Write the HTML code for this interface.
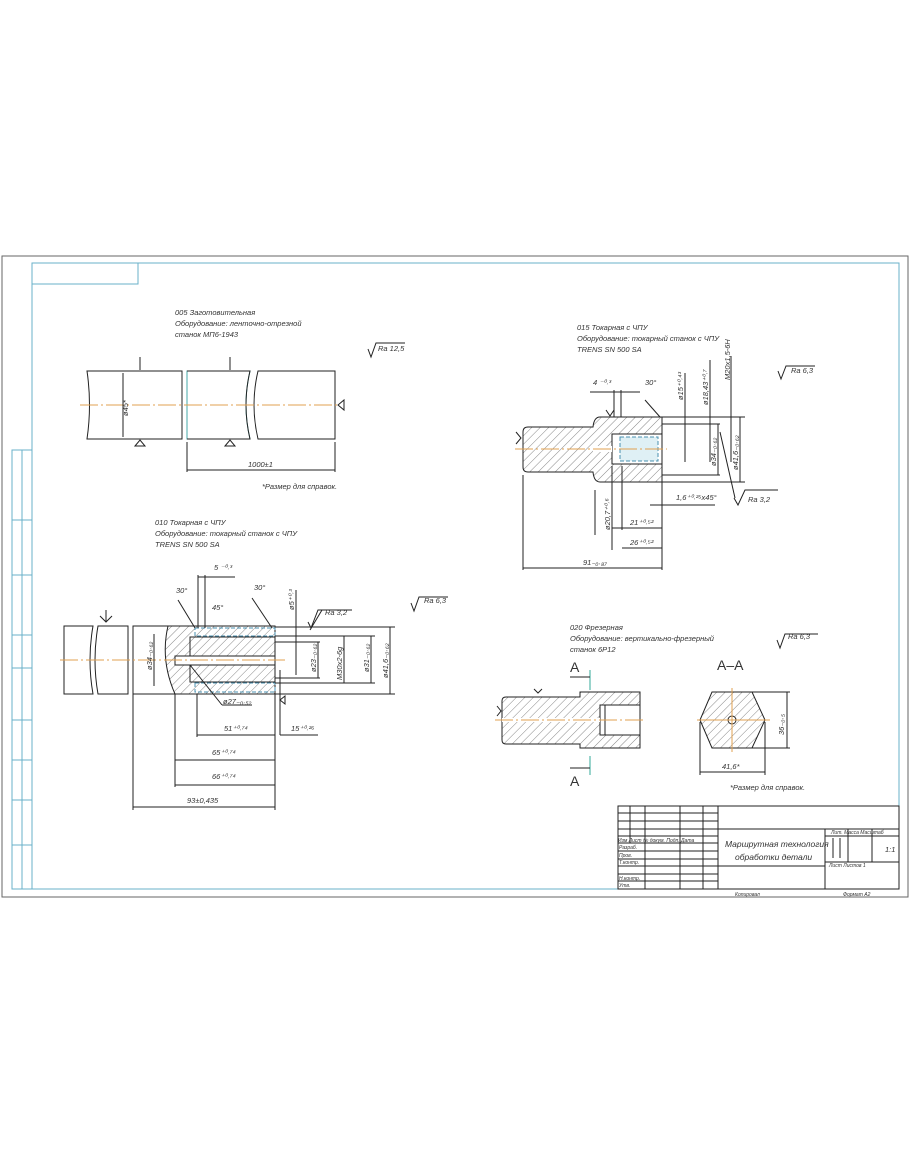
<!DOCTYPE html>
<html><head><meta charset="utf-8"><style>
html,body{margin:0;padding:0;background:#fff}
svg{display:block}
text{font-family:"Liberation Sans",sans-serif;font-style:italic;fill:#333}
</style></head><body>
<svg width="910" height="1155" viewBox="0 0 910 1155" xmlns="http://www.w3.org/2000/svg">
<defs>
<pattern id="h" width="6" height="6" patternUnits="userSpaceOnUse" patternTransform="rotate(45)">
<rect width="6" height="6" fill="#fff"/><line x1="0" y1="0" x2="0" y2="6" stroke="#555" stroke-width="0.7"/>
</pattern>
</defs>
<g fill="none" stroke="#222" stroke-width="1">
<!-- frames -->
<rect x="2" y="256" width="906" height="641" stroke="#666"/>
<rect x="32" y="263" width="867" height="626" stroke="#6ab0c8"/>
<rect x="32" y="263" width="106" height="21" stroke="#6ab0c8"/>
<rect x="12" y="450" width="20" height="439" stroke="#6ab0c8"/>
<line x1="22" y1="450" x2="22" y2="889" stroke="#6ab0c8"/>
<g stroke="#6ab0c8"><line x1="12" y1="520" x2="32" y2="520"/><line x1="12" y1="575" x2="32" y2="575"/><line x1="12" y1="635" x2="32" y2="635"/><line x1="12" y1="668" x2="32" y2="668"/><line x1="12" y1="720" x2="32" y2="720"/><line x1="12" y1="760" x2="32" y2="760"/><line x1="12" y1="800" x2="32" y2="800"/><line x1="12" y1="845" x2="32" y2="845"/></g>

<!-- 005 -->
<path d="M87 371 H182 V439 H87 Q92 405 87 371Z"/>
<path d="M187 371 H250 Q242 405 250 439 H187Z" stroke="#4aa"/>
<path d="M187 371 H250 Q242 405 250 439 H187"/>
<path d="M258 371 H335 V439 H258 Q250 405 258 371Z"/>
<line x1="80" y1="405" x2="340" y2="405" stroke="#e0a050" stroke-dasharray="18 3 2 3"/>
<line x1="123" y1="373" x2="123" y2="437"/>
<line x1="140" y1="357" x2="140" y2="370"/><line x1="230" y1="357" x2="230" y2="370"/>
<path d="M135 446 L140 440 L145 446Z M225 446 L230 440 L235 446Z M338 405 L344 400 L344 410Z"/>
<line x1="187" y1="442" x2="187" y2="472"/><line x1="335" y1="442" x2="335" y2="472"/>
<line x1="187" y1="470" x2="335" y2="470"/>
<path d="M368 349 L371 357 L376 343 H405"/>

<!-- 015 -->
<path d="M528 427 H593 Q594 417 600 417 H662 V482 H600 Q594 482 593 472 H528 Q523 472 523 467 V432 Q523 427 528 427Z" fill="url(#h)"/>
<rect x="612" y="434" width="50" height="30" fill="#fff"/>
<rect x="620" y="437" width="38" height="24" fill="#dff0f5" stroke="#4a90b0" stroke-dasharray="4 2"/>
<rect x="593" y="446" width="19" height="6" fill="#fff" stroke="none"/>
<line x1="515" y1="449" x2="667" y2="449" stroke="#e0a050" stroke-dasharray="18 3 2 3"/>
<line x1="662" y1="417" x2="745" y2="417"/><line x1="662" y1="482" x2="745" y2="482"/>
<line x1="662" y1="424" x2="720" y2="424"/><line x1="662" y1="475" x2="720" y2="475"/>
<line x1="685" y1="373" x2="685" y2="462"/><line x1="710" y1="360" x2="710" y2="462"/><line x1="731" y1="356" x2="731" y2="462"/>
<line x1="718" y1="424" x2="718" y2="475"/><line x1="740" y1="417" x2="740" y2="482"/>
<line x1="523" y1="475" x2="523" y2="570"/><line x1="662" y1="482" x2="662" y2="570"/>
<line x1="523" y1="568" x2="662" y2="568"/>
<line x1="612" y1="466" x2="612" y2="550"/><line x1="622" y1="466" x2="622" y2="530"/>
<line x1="612" y1="528" x2="662" y2="528"/><line x1="622" y1="548" x2="662" y2="548"/>
<line x1="614" y1="390" x2="614" y2="417"/><line x1="621" y1="390" x2="621" y2="417"/>
<line x1="590" y1="392" x2="640" y2="392"/>
<line x1="645" y1="400" x2="660" y2="417"/>
<line x1="650" y1="505" x2="715" y2="505"/>
<line x1="720" y1="432" x2="735" y2="498" /><path d="M734 498 L738 505 L745 490 H778"/>
<line x1="595" y1="490" x2="595" y2="535"/>
<path d="M516 432 L521 438 L516 444" /><path d="M606 410 L610 416 L614 410"/>
<path d="M778 371 L781 379 L786 366 H815"/>

<!-- 010 -->
<path d="M64 626 H93 Q87 660 93 694 H64Z"/>
<path d="M98 626 H128 V694 H98 Q92 660 98 626Z"/>
<rect x="133" y="626" width="42" height="68"/>
<path d="M168 626 H275 V694 H175 Q160 660 168 626Z" fill="url(#h)"/>
<rect x="190" y="637" width="85" height="45" fill="url(#h)"/>
<rect x="175" y="656" width="100" height="9" fill="#fff"/>
<rect x="195" y="628" width="80" height="8" fill="none" stroke="#4a90b0" stroke-dasharray="4 2"/>
<rect x="195" y="683" width="80" height="9" fill="none" stroke="#4a90b0" stroke-dasharray="4 2"/>
<line x1="60" y1="660" x2="285" y2="660" stroke="#e0a050" stroke-dasharray="18 3 2 3"/>
<line x1="275" y1="627" x2="395" y2="627"/><line x1="275" y1="694" x2="395" y2="694"/>
<line x1="275" y1="636" x2="375" y2="636"/><line x1="275" y1="683" x2="375" y2="683"/>
<line x1="275" y1="642" x2="320" y2="642"/><line x1="275" y1="678" x2="320" y2="678"/>
<line x1="296" y1="590" x2="296" y2="675"/><line x1="318" y1="642" x2="318" y2="678"/>
<line x1="344" y1="636" x2="344" y2="683"/><line x1="371" y1="636" x2="371" y2="683"/><line x1="390" y1="627" x2="390" y2="694"/>
<line x1="154" y1="634" x2="154" y2="686"/>
<line x1="133" y1="694" x2="133" y2="810"/><line x1="175" y1="694" x2="175" y2="787"/><line x1="197" y1="694" x2="197" y2="737"/><line x1="275" y1="694" x2="275" y2="810"/><line x1="280" y1="670" x2="280" y2="735"/>
<line x1="197" y1="735" x2="275" y2="735"/><line x1="280" y1="735" x2="318" y2="735"/>
<line x1="175" y1="760" x2="275" y2="760"/><line x1="175" y1="785" x2="275" y2="785"/><line x1="133" y1="807" x2="275" y2="807"/>
<line x1="198" y1="575" x2="198" y2="628"/><line x1="205" y1="575" x2="205" y2="628"/><line x1="198" y1="577" x2="235" y2="577"/>
<line x1="178" y1="600" x2="195" y2="628"/><line x1="252" y1="598" x2="272" y2="628"/>
<line x1="190" y1="665" x2="222" y2="705"/><line x1="222" y1="705" x2="252" y2="705"/>
<line x1="310" y1="630" x2="322" y2="610"/><path d="M308 622 L311 628 L318 610 H352"/>
<path d="M100 616 L106 622 L112 616 M106 610 V622"/>
<path d="M280 700 L285 696 L285 704Z"/>
<path d="M411 603 L414 611 L419 597 H448"/>

<!-- 020 -->
<path d="M506 697 H580 V692 H640 V748 H580 V744 H506 Q502 744 502 740 V701 Q502 697 506 697Z" fill="url(#h)"/>
<rect x="600" y="705" width="40" height="30" fill="#fff"/><rect x="600" y="705" width="5" height="30"/>
<rect x="502" y="718" width="98" height="4" fill="#fff" stroke="none"/>
<line x1="495" y1="720" x2="645" y2="720" stroke="#e0a050" stroke-dasharray="18 3 2 3"/>
<line x1="590" y1="670" x2="590" y2="690" stroke="#3a9"/><line x1="590" y1="756" x2="590" y2="775" stroke="#3a9"/>
<line x1="570" y1="677" x2="590" y2="677"/><line x1="570" y1="768" x2="590" y2="768"/>
<path d="M534 689 L538 693 L542 689 M497 706 L501 711 L497 716"/>
<path d="M712 692 H752 L765 720 L752 748 H712 L700 720Z" fill="url(#h)"/>
<circle cx="732" cy="720" r="4" fill="#fff"/>
<line x1="697" y1="720" x2="770" y2="720" stroke="#e0a050"/><line x1="732" y1="688" x2="732" y2="752" stroke="#e0a050"/>
<line x1="752" y1="692" x2="790" y2="692"/><line x1="752" y1="748" x2="790" y2="748"/><line x1="787" y1="692" x2="787" y2="748"/>
<line x1="700" y1="722" x2="700" y2="775"/><line x1="765" y1="722" x2="765" y2="775"/><line x1="700" y1="772" x2="765" y2="772"/>
<path d="M777 640 L780 648 L785 634 H818"/>

<!-- title block -->
<rect x="618" y="806" width="281" height="83"/>
<line x1="718" y1="806" x2="718" y2="889"/><line x1="825" y1="829" x2="825" y2="889"/>
<line x1="718" y1="829" x2="899" y2="829"/><line x1="825" y1="836" x2="899" y2="836"/><line x1="825" y1="862" x2="899" y2="862"/><line x1="718" y1="866" x2="825" y2="866"/>
<line x1="848" y1="829" x2="848" y2="862"/><line x1="872" y1="829" x2="872" y2="862"/>
<line x1="833" y1="838" x2="833" y2="858"/><line x1="840" y1="838" x2="840" y2="858"/>
<line x1="630" y1="806" x2="630" y2="843"/><line x1="645" y1="806" x2="645" y2="889"/><line x1="680" y1="806" x2="680" y2="889"/><line x1="703" y1="806" x2="703" y2="889"/>
<line x1="618" y1="813" x2="718" y2="813"/><line x1="618" y1="821" x2="718" y2="821"/><line x1="618" y1="829" x2="718" y2="829"/><line x1="618" y1="836" x2="718" y2="836"/><line x1="618" y1="843" x2="718" y2="843"/><line x1="618" y1="851" x2="718" y2="851"/><line x1="618" y1="859" x2="718" y2="859"/><line x1="618" y1="866" x2="718" y2="866"/><line x1="618" y1="874" x2="718" y2="874"/><line x1="618" y1="881" x2="718" y2="881"/>
</g>
<g font-size="7.5">
<text x="175" y="315">005 Заготовительная</text><text x="175" y="326">Оборудование: ленточно-отрезной</text><text x="175" y="337">станок МП6-1943</text>
<text x="378" y="351">Ra 12,5</text>
<text x="128" y="416" transform="rotate(-90 128 416)">ø45*</text>
<text x="248" y="467">1000±1</text><text x="262" y="489">*Размер для справок.</text>
<text x="577" y="330">015 Токарная с ЧПУ</text><text x="577" y="341">Оборудование: токарный станок с ЧПУ</text><text x="577" y="352">TRENS SN 500 SA</text>
<text x="791" y="373">Ra 6,3</text>
<text x="593" y="385">4 ⁻⁰˒³</text><text x="645" y="385">30°</text>
<text x="683" y="400" transform="rotate(-90 683 400)">ø15⁺⁰˒⁴³</text>
<text x="708" y="405" transform="rotate(-90 708 405)">ø18,43⁺⁰˒⁷</text>
<text x="730" y="380" transform="rotate(-90 730 380)">M20x1,5-6H</text>
<text x="716" y="466" transform="rotate(-90 716 466)">ø34₋₀˒₆₂</text>
<text x="738" y="470" transform="rotate(-90 738 470)">ø41,6₋₀˒₆₂</text>
<text x="676" y="500">1,6⁺⁰˒²⁵x45°</text><text x="748" y="502">Ra 3,2</text>
<text x="610" y="530" transform="rotate(-90 610 530)">ø20,7⁺⁰˒⁶</text>
<text x="630" y="525">21⁺⁰˒⁵²</text><text x="630" y="545">26⁺⁰˒⁵²</text><text x="583" y="565">91₋₀˒₈₇</text>
<text x="155" y="525">010 Токарная с ЧПУ</text><text x="155" y="536">Оборудование: токарный станок с ЧПУ</text><text x="155" y="547">TRENS SN 500 SA</text>
<text x="214" y="570">5 ⁻⁰˒³</text><text x="176" y="593">30°</text><text x="254" y="590">30°</text><text x="212" y="610">45°</text>
<text x="294" y="610" transform="rotate(-90 294 610)">ø5⁺⁰˒³</text>
<text x="325" y="615">Ra 3,2</text><text x="424" y="603">Ra 6,3</text>
<text x="152" y="670" transform="rotate(-90 152 670)">ø34₋₀˒₆₂</text>
<text x="316" y="672" transform="rotate(-90 316 672)">ø23₋₀˒₆₂</text>
<text x="342" y="680" transform="rotate(-90 342 680)">M30x2-6g</text>
<text x="369" y="672" transform="rotate(-90 369 672)">ø31₋₀˒₆₂</text>
<text x="388" y="678" transform="rotate(-90 388 678)">ø41,6₋₀˒₆₂</text>
<text x="223" y="704">ø27₋₀˒₅₂</text><text x="224" y="731">51⁺⁰˒⁷⁴</text><text x="291" y="731">15⁺⁰˒²⁶</text>
<text x="212" y="755">65⁺⁰˒⁷⁴</text><text x="212" y="779">66⁺⁰˒⁷⁴</text><text x="187" y="803">93±0,435</text>
<text x="570" y="630">020 Фрезерная</text><text x="570" y="641">Оборудование: вертикально-фрезерный</text><text x="570" y="652">станок 6Р12</text>
<text x="788" y="639">Ra 6,3</text>
<text x="784" y="735" transform="rotate(-90 784 735)">36₋₀˒₅</text>
<text x="722" y="769">41,6*</text><text x="730" y="790">*Размер для справок.</text>
<text x="725" y="847" font-size="8.5">Маршрутная технология</text><text x="735" y="860" font-size="8.5">обработки детали</text>
<text x="885" y="852">1:1</text>
<text x="618" y="842" font-size="5">Изм Лист  № докум.  Подп.  Дата</text>
<text x="619" y="849" font-size="5">Разраб.</text><text x="619" y="857" font-size="5">Пров.</text><text x="619" y="864" font-size="5">Т.контр.</text><text x="619" y="880" font-size="5">Н.контр.</text><text x="619" y="887" font-size="5">Утв.</text>
<text x="831" y="834" font-size="5">Лит.   Масса  Масштаб</text><text x="829" y="867" font-size="5">Лист        Листов  1</text>
<text x="735" y="896" font-size="5">Копировал</text><text x="843" y="896" font-size="5">Формат  А2</text>
</g>
<g font-size="24" style="font-style:normal"><text x="570" y="672" font-size="14" style="font-style:normal">A</text><text x="570" y="786" font-size="14" style="font-style:normal">A</text><text x="717" y="670" font-size="14" style="font-style:normal">A–A</text></g>
</svg>
</body></html>
